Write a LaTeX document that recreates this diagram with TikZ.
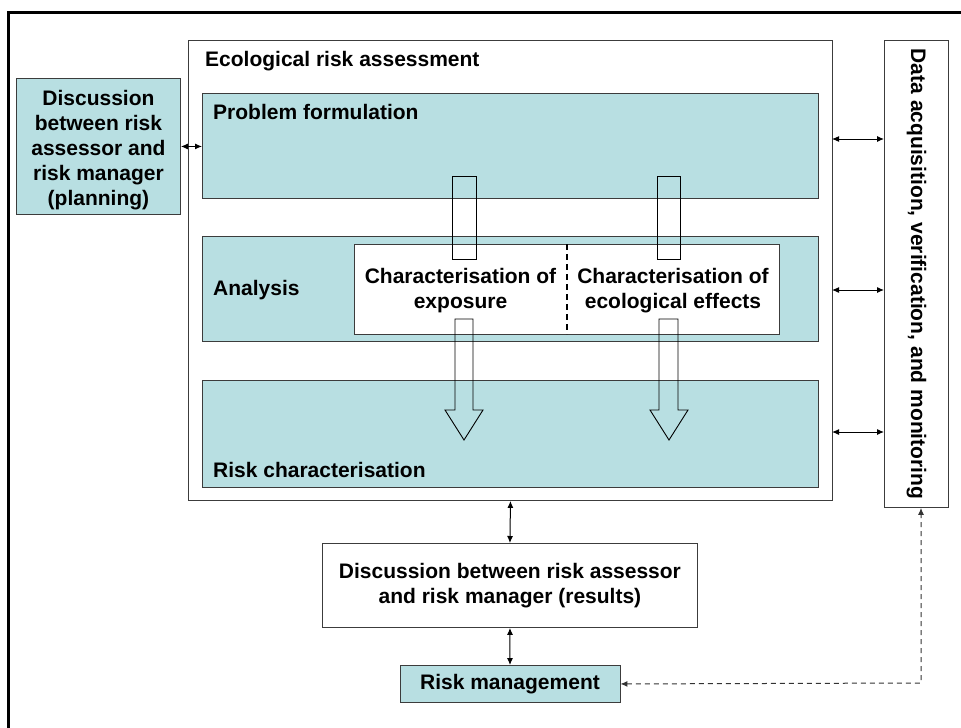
\documentclass[tikz,border=0pt]{standalone}
\usepackage{fontspec}
\setmainfont{Liberation Sans}
\usetikzlibrary{arrows.meta}
\definecolor{teal1}{RGB}{184,223,226}
\definecolor{edge}{RGB}{60,60,60}
\begin{document}
\begin{tikzpicture}[x=1pt,y=-1pt,
  txt/.style={font=\bfseries\fontsize{21}{25}\selectfont},
  box/.style={draw=edge, line width=0.9pt, inner sep=0pt, anchor=north west, txt, align=center},
  tealbox/.style={box, fill=teal1},
  whitebox/.style={box, fill=white},
  lbl/.style={txt, inner sep=0pt, anchor=base west},
  ctext/.style={txt, align=center, inner sep=0pt},
  dbl/.style={{Latex[length=7pt,width=6pt]}-{Latex[length=7pt,width=6pt]}, line width=1pt, draw=black},
  blockarrow/.style={draw=black, line width=0.9pt}
]
\useasboundingbox (0,0) rectangle (961,728);
\fill[white] (0,0) rectangle (961,728);
% outer frame
\draw[line width=3pt] (8,728) -- (8,12) -- (961,12);

% ecological risk assessment
\node[whitebox, minimum width=644pt, minimum height=460pt] (era) at (188,40) {};
\node[lbl] (eratitle) at (205,66) {Ecological risk assessment};

\node[tealbox, minimum width=616pt, minimum height=105pt] (pf) at (202,93) {};
\node[lbl] (pflbl) at (213,119) {Problem formulation};

\node[tealbox, minimum width=616pt, minimum height=105pt] (an) at (202,236) {};
\node[lbl] (anlbl) at (213,295) {Analysis};

\node[whitebox, minimum width=425pt, minimum height=90pt] (inner) at (354,244) {};
\coordinate (divtop) at (567,244);
\coordinate (divbot) at (567,334);
\draw[line width=1.5pt, dash pattern=on 6pt off 4pt] (divtop) -- (divbot);
\node[ctext] (expo) at (460.5,291) {Characterisation of\\exposure};
\node[ctext] (effe) at (673,291) {Characterisation of\\ecological effects};

\node[tealbox, minimum width=616pt, minimum height=107pt] (rc) at (202,380) {};
\node[lbl] (rclbl) at (213,477) {Risk characterisation};

% block arrows
\draw[blockarrow] (452,176) rectangle (476,259);
\draw[blockarrow] (657,176) rectangle (680,259);
\draw[blockarrow] (455,319) -- (473,319) -- (473,410) -- (483,410) -- (464,440) -- (445,410) -- (455,410) -- cycle;
\draw[blockarrow] (659,319) -- (678,319) -- (678,410) -- (688,410) -- (669,440) -- (650,410) -- (659,410) -- cycle;

% planning
\node[tealbox, minimum width=164pt, minimum height=136pt] (plan) at (16,78) {};
\node[ctext] (plantxt) at ([yshift=-4pt]plan.center) {Discussion\\between risk\\assessor and\\risk manager\\(planning)};
\draw[dbl] (plan.east) -- (plan.east -| pf.west);

% data acquisition
\node[whitebox, minimum width=64pt, minimum height=467pt] (data) at (884,40) {};
\node[ctext, rotate=-90] (datatxt) at (data.center) {Data acquisition, verification, and monitoring};
\coordinate (r1) at (832,139);
\coordinate (r2) at (832,290);
\coordinate (r3) at (832,432);
\draw[dbl] (r1) -- (data.west |- r1);
\draw[dbl] (r2) -- (data.west |- r2);
\draw[dbl] (r3) -- (data.west |- r3);

% results
\node[whitebox, minimum width=375pt, minimum height=84pt] (res) at (322,543) {Discussion between risk assessor\\and risk manager (results)};
\draw[dbl] (era.south) -- (res.north);

% risk management
\node[tealbox, anchor=north, minimum width=220pt, minimum height=37pt] (rm) at (510,665) {Risk management};
\draw[dbl] (res.south) -- (rm.north);
\coordinate (dcorner) at (921,683);
\draw[dbl, draw=black!80, dash pattern=on 5pt off 4pt] (rm.east) -- (dcorner) -- (dcorner |- data.south);
\end{tikzpicture}
\end{document}
